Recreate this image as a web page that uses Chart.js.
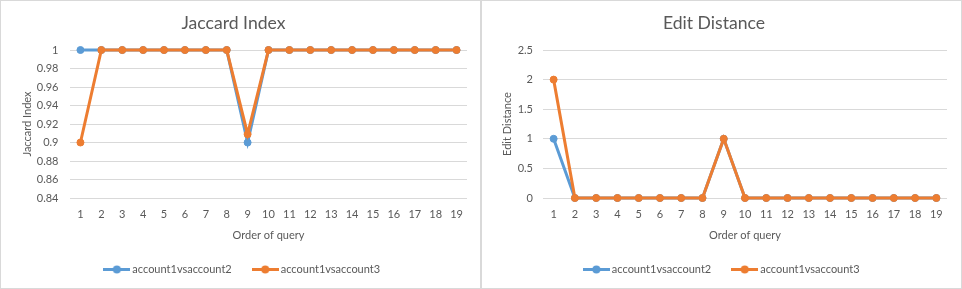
<!DOCTYPE html>
<html>
<head>
<meta charset="utf-8">
<script src="https://cdn.jsdelivr.net/npm/chart.js@4.4.1/dist/chart.umd.min.js"></script>
<style>
  html, body { margin: 0; padding: 0; background: #fff; }
  .panel { position: absolute; top: 0; width: 481px; height: 289px; }
  .panel canvas { position: absolute; left: 0; top: 0; }
  .frame { position: absolute; left: 0; top: 0; width: 479px; height: 287px; border: 1px solid #d9d9d9; pointer-events: none; }
</style>
</head>
<body>
<div class="panel" style="left:0px"><canvas id="jaccard" width="481" height="289"></canvas><div class="frame"></div></div>
<div class="panel" style="left:481px"><canvas id="edit" width="481" height="289"></canvas><div class="frame"></div></div>
<script>
// x 카테고리
const queryOrder = ["1", "2", "3", "4", "5", "6", "7", "8", "9", "10", "11", "12", "13", "14", "15", "16", "17", "18", "19"];
const seriesNames = ["account1vsaccount2", "account1vsaccount3"];

// Jaccard Index
const jaccard12 = [1, 1, 1, 1, 1, 1, 1, 1, 0.9, 1, 1, 1, 1, 1, 1, 1, 1, 1, 1];
const jaccard13 = [0.9, 1, 1, 1, 1, 1, 1, 1, 0.909, 1, 1, 1, 1, 1, 1, 1, 1, 1, 1];
const jaccardTicks = [0.84, 0.86, 0.88, 0.9, 0.92, 0.94, 0.96, 0.98, 1];

// Edit Distance
const edit12 = [1, 0, 0, 0, 0, 0, 0, 0, 1, 0, 0, 0, 0, 0, 0, 0, 0, 0, 0];
const edit13 = [2, 0, 0, 0, 0, 0, 0, 0, 1, 0, 0, 0, 0, 0, 0, 0, 0, 0, 0];
const editTicks = [0, 0.5, 1, 1.5, 2, 2.5];

const BLUE = "#5b9bd5";
const ORANGE = "#ed7d31";
const TEXT = "#595959";
const GRID = "#d9d9d9";
const FONT = "Lato, 'Liberation Sans', sans-serif";

// 범례용 선+점 아이콘
function legendIcon(color) {
  const c = document.createElement("canvas");
  c.width = 27;
  c.height = 9;
  const g = c.getContext("2d");
  g.strokeStyle = color;
  g.lineWidth = 3;
  g.beginPath();
  g.moveTo(0, 4.5);
  g.lineTo(27, 4.5);
  g.stroke();
  g.fillStyle = color;
  g.beginPath();
  g.arc(13.5, 4.5, 4, 0, Math.PI * 2);
  g.fill();
  return c;
}
const icons = [legendIcon(BLUE), legendIcon(ORANGE)];

function makeChart(id, title, d1, d2, ticks, cfg) {
  const ctx = document.getElementById(id).getContext("2d");

  // 범례 가로 위치 보정
  const legendShift = {
    id: "legendShift",
    afterLayout(chart) {
      chart.legend.left += cfg.legendShift;
    },
  };

  return new Chart(ctx, {
    type: "line",
    data: {
      labels: queryOrder,
      datasets: [
        {
          label: seriesNames[0],
          data: d1,
          borderColor: BLUE,
          backgroundColor: BLUE,
          borderWidth: 3,
          pointRadius: 3.5,
          pointBorderWidth: 1,
          tension: 0,
          clip: false,
          order: 1,
        },
        {
          label: seriesNames[1],
          data: d2,
          borderColor: ORANGE,
          backgroundColor: ORANGE,
          borderWidth: 3,
          pointRadius: 3.5,
          pointBorderWidth: 1,
          tension: 0,
          clip: false,
          order: 0, // 주황이 위에
        },
      ],
    },
    plugins: [legendShift],
    options: {
      responsive: false,
      devicePixelRatio: 1,
      animation: false,
      layout: { padding: { left: 0, right: cfg.padRight, top: 0, bottom: 4 } },
      plugins: {
        tooltip: { enabled: false },
        title: {
          display: true,
          text: title,
          color: TEXT,
          font: { family: FONT, size: 17.6, weight: "normal" },
          padding: { top: 12.4, bottom: 16.5 },
        },
        legend: {
          position: "bottom",
          labels: {
            color: TEXT,
            font: { family: FONT, size: 11 },
            usePointStyle: true,
            pointStyleWidth: 20,
            padding: 23.5,
            generateLabels: (chart) =>
              chart.data.datasets.map((ds, i) => ({
                text: ds.label,
                fillStyle: ds.borderColor,
                strokeStyle: ds.borderColor,
                fontColor: TEXT,
                lineWidth: 0,
                pointStyle: icons[i],
                hidden: false,
                datasetIndex: i,
              })),
          },
        },
      },
      scales: {
        x: {
          offset: true,
          grid: { display: false, drawTicks: false },
          border: { display: false },
          ticks: { color: TEXT, font: { family: FONT, size: 11 }, padding: 9.4, maxRotation: 0, autoSkip: false },
          title: {
            display: true,
            text: "Order of query",
            color: TEXT,
            font: { family: FONT, size: 11 },
            padding: { top: 0, bottom: -1.1 },
          },
          afterFit: (scale) => {
            scale.height = 42.5;
          },
        },
        y: {
          min: ticks[0],
          max: ticks[ticks.length - 1],
          grid: { color: GRID, lineWidth: 1, drawTicks: false },
          border: { display: false },
          ticks: {
            color: TEXT,
            font: { family: FONT, size: 11 },
            padding: cfg.tickPad,
            callback: (v) => String(v),
          },
          afterBuildTicks: (scale) => {
            scale.ticks = ticks.map((v) => ({ value: v }));
          },
          title: {
            display: true,
            text: title,
            color: TEXT,
            font: { family: FONT, size: 11 },
            padding: { top: cfg.titlePad, bottom: 0 },
          },
          afterFit: (scale) => {
            scale.width = cfg.yWidth;
          },
        },
      },
    },
  });
}

makeChart("jaccard", "Jaccard Index", jaccard12, jaccard13, jaccardTicks, {
  yWidth: 70, padRight: 14, tickPad: 11.5, titlePad: 20.4, legendShift: 20,
});
makeChart("edit", "Edit Distance", edit12, edit13, editTicks, {
  yWidth: 62, padRight: 15, tickPad: 10, titlePad: 19.4, legendShift: 18,
});
</script>
</body>
</html>
